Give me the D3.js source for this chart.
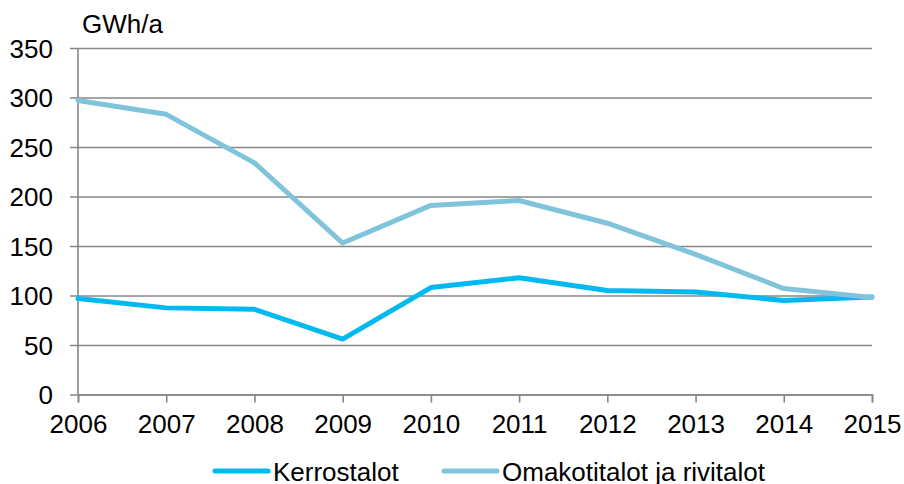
<!DOCTYPE html>
<html>
<head>
<meta charset="utf-8">
<script src="https://cdn.jsdelivr.net/npm/d3@7"></script>
<style>
  body { margin: 0; background: #fff; }
  text { font-family: "Liberation Sans", Arial, sans-serif; fill: #000; }
</style>
</head>
<body>
<div id="chart"></div>
<script>
var years = [2006, 2007, 2008, 2009, 2010, 2011, 2012, 2013, 2014, 2015];
var kerrostalot = [97, 87.5, 86, 56, 108, 118, 105, 103.5, 95, 98.5];
var omakotitalot = [297, 283, 234, 153, 191, 196, 173, 141.5, 107, 98];
var seriesNames = ["Kerrostalot", "Omakotitalot ja rivitalot"];
var seriesColors = ["#00b9f1", "#80c4db"];
var yTicks = [0, 50, 100, 150, 200, 250, 300, 350];
var unitLabel = "GWh/a";

var width = 904, height = 484;
var mLeft = 78, mRight = 872, mTop = 48, mBottom = 394.5;
var fs = 26;

var svg = d3.select("#chart").append("svg")
  .attr("width", width).attr("height", height);

var x = d3.scaleLinear().domain([years[0], years[years.length - 1]]).range([mLeft, mRight]);
var y = d3.scaleLinear().domain([0, 350]).range([mBottom, mTop]);

// vaakasuorat apuviivat + y-tekstit
var yAxis = d3.axisLeft(y).tickValues(yTicks).tickSize(-(mRight - mLeft) - 8).tickPadding(17)
  .tickFormat(d3.format("d"));
var gy = svg.append("g").attr("transform", "translate(" + (mLeft - 8) + ",0)")
  .call(yAxis);
gy.select(".domain").remove();
gy.selectAll(".tick line").attr("stroke", "#868686").attr("stroke-width", 1.6);
gy.selectAll(".tick text").attr("font-size", fs).attr("x", -17).attr("dy", "0.36em");

// y-akselin viiva
svg.append("line")
  .attr("x1", mLeft).attr("x2", mLeft).attr("y1", mTop).attr("y2", mBottom)
  .attr("stroke", "#868686").attr("stroke-width", 1.6);

var xAxis = d3.axisBottom(x).tickValues(years).tickSize(8).tickPadding(12)
  .tickFormat(d3.format("d"));
var gx = svg.append("g").attr("transform", "translate(0," + mBottom + ")").call(xAxis);
gx.select(".domain").attr("stroke", "#868686").attr("stroke-width", 1.6);
gx.selectAll(".tick line").attr("stroke", "#868686").attr("stroke-width", 1.6);
gx.selectAll(".tick text").attr("font-size", fs);

svg.append("text").attr("x", 82).attr("y", 33).attr("font-size", fs).text(unitLabel);

var line = d3.line()
  .x(function(d, i){ return x(years[i]); })
  .y(function(d){ return y(d); });

[kerrostalot, omakotitalot].forEach(function(s, i){
  svg.append("path")
    .datum(s)
    .attr("fill", "none")
    .attr("stroke", seriesColors[i])
    .attr("stroke-width", 5)
    .attr("stroke-linejoin", "round")
    .attr("stroke-linecap", "round")
    .attr("d", line);
});

// selite
var legendX = [215, 444];
seriesNames.forEach(function(name, i){
  var g = svg.append("g").attr("transform", "translate(" + legendX[i] + ",471)");
  g.append("line").attr("x1", 0).attr("x2", 53).attr("y1", 0).attr("y2", 0)
    .attr("stroke", seriesColors[i]).attr("stroke-width", 5).attr("stroke-linecap", "round");
  g.append("text").attr("x", 58).attr("y", 10).attr("font-size", fs).text(name);
});
</script>
</body>
</html>
